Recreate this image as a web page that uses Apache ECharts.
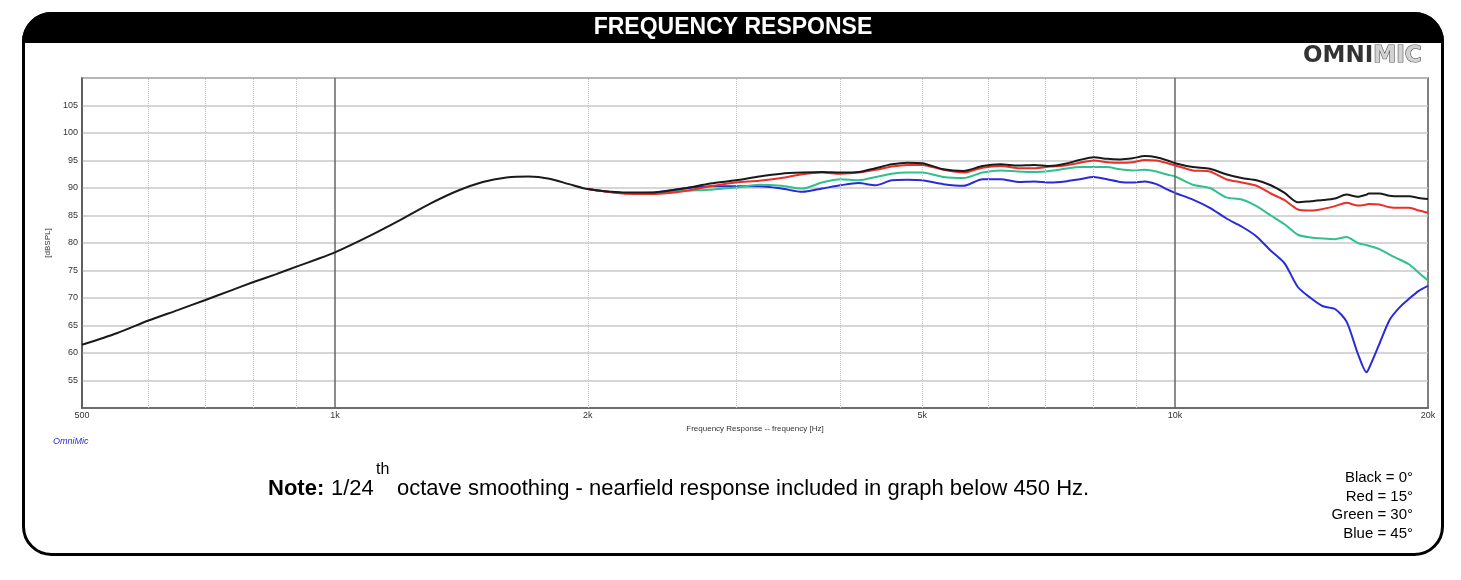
<!DOCTYPE html>
<html><head><meta charset="utf-8">
<script src="https://cdn.jsdelivr.net/npm/echarts@6/dist/echarts.min.js"></script>
<style>html,body{margin:0;padding:0;background:#fff}#c{width:1461px;height:580px}</style>
</head><body><div id="c"></div>
<script>
// Frequencies (Hz) shared by all curves
const freqs = [500,550,600,650,700,750,800,850,900,950,1000,1100,1200,1300,1400,1500,1600,1700,1800,1900,
  2000,2200,2400,2600,2800,3000,3200,3400,3600,3800,4000,4200,4400,4600,4800,
  5000,5300,5600,5900,6200,6500,6800,7100,7400,7700,8000,8300,8600,8900,9200,9500,9800,
  10000,10500,11000,11500,12000,12500,13000,13500,14000,14500,15000,15500,16000,16500,16900,
  17000,17500,18000,18500,19000,19500,20000];

// Black = 0 deg (includes nearfield part)
const black0 = [61.5,63.6,65.9,67.8,69.6,71.3,72.9,74.3,75.7,77.0,78.3,81.3,84.3,87.2,89.5,91.1,91.9,92.1,91.7,90.7,
  89.8,89.2,89.2,89.9,90.8,91.4,92.1,92.6,92.8,92.9,92.8,92.9,93.6,94.3,94.6,
  94.5,93.4,93.1,94.0,94.3,94.1,94.2,94.0,94.4,95.1,95.6,95.3,95.2,95.4,95.8,95.6,95.0,
  94.5,93.8,93.5,92.5,91.8,91.4,90.5,89.1,87.4,87.6,87.8,88.1,88.8,88.4,88.8,
  89.0,89.0,88.6,88.5,88.5,88.2,88.0];

const N = null;
// Red = 15 deg
const red15 = [N,N,N,N,N,N,N,N,N,N,N,N,N,N,N,N,N,N,N,N,
  89.8,89.0,88.9,89.4,90.3,91.0,91.3,91.8,92.5,92.8,92.6,92.8,93.3,93.9,94.2,
  94.2,93.3,92.8,93.7,94.0,93.6,93.6,93.9,94.1,94.6,95.0,94.7,94.6,94.7,95.1,95.0,94.5,
  94.1,93.2,93.0,91.6,91.0,90.4,89.0,87.8,86.1,85.9,86.2,86.7,87.3,86.8,87.0,
  87.1,87.0,86.5,86.4,86.4,85.9,85.5];

// Green = 30 deg
const green30 = [N,N,N,N,N,N,N,N,N,N,N,N,N,N,N,N,N,N,N,N,
  89.8,89.1,89.1,89.5,89.7,90.1,90.6,90.4,89.9,91.0,91.6,91.4,92.0,92.6,92.8,
  92.8,92.0,91.8,92.8,93.2,93.0,92.9,93.1,93.5,93.8,93.8,93.8,93.4,93.2,93.3,93.0,92.4,
  92.1,90.6,90.0,88.3,87.9,86.7,85.0,83.4,81.5,81.0,80.8,80.7,81.1,80.0,79.6,
  79.5,78.9,77.9,77.0,76.1,74.6,73.2];

// Blue = 45 deg
const blue45 = [N,N,N,N,N,N,N,N,N,N,N,N,N,N,N,N,N,N,N,N,
  89.8,89.1,89.2,89.9,90.3,90.3,90.3,89.9,89.3,89.9,90.5,90.9,90.5,91.4,91.5,
  91.4,90.7,90.4,91.6,91.6,91.1,91.2,91.0,91.2,91.6,92.0,91.6,91.1,91.0,91.2,90.7,89.7,
  89.1,87.9,86.4,84.5,83.0,81.2,78.6,76.3,72.0,70.0,68.5,68.0,65.7,59.9,56.5,
  57.1,61.6,66.0,68.3,69.9,71.3,72.2];

const xLabelValues = [500,1000,2000,5000,10000,20000];
const minorGridFreqs = [600,700,800,900,2000,3000,4000,5000,6000,7000,8000,9000];
const majorGridFreqs = [1000,10000];
const legendLines = ['Black = 0°','Red = 15°','Green = 30°','Blue = 45°'];

const pairs = vals => freqs.map((f,i) => [f, vals[i]]);
const fontFam = '"Liberation Sans", Arial, sans-serif';

const chart = echarts.init(document.getElementById('c'));
const lineSeries = (name, vals, color, z) => ({
  name, type:'line', data: pairs(vals), showSymbol:false, smooth:0.25, z,
  lineStyle:{color, width:2}, itemStyle:{color}, silent:true
});

chart.setOption({
  animation:false,
  backgroundColor:'#fff',
  grid:{left:82,right:33,top:78,bottom:172,show:true,borderColor:'#555',borderWidth:1.5},
  xAxis:{
    type:'log', logBase:10, min:500, max:20000,
    axisLine:{show:true,lineStyle:{color:'#555',width:1.5}},
    axisTick:{show:false}, splitLine:{show:false}, minorTick:{show:false}, minorSplitLine:{show:false},
    axisLabel:{customValues:xLabelValues, margin:3, fontSize:9, color:'#333', fontFamily:fontFam,
      formatter:v=>{const r=Math.round(v);return r>=1000?(r/1000)+'k':String(r);}},
    name:'Frequency Response -- frequency [Hz]', nameLocation:'middle', nameGap:16,
    nameTextStyle:{fontSize:8,color:'#333',fontFamily:fontFam}
  },
  yAxis:{
    type:'value', min:50, max:110, interval:5,
    axisLine:{show:true,lineStyle:{color:'#555',width:1.5}}, axisTick:{show:false},
    splitLine:{show:true,lineStyle:{color:'#c8c8c8',width:1.5}},
    axisLabel:{margin:4,fontSize:9,color:'#333',fontFamily:fontFam,
      formatter:v=>(v<=50||v>=110)?'':String(v)},
    name:'[dBSPL]', nameLocation:'middle', nameRotate:90, nameGap:24,
    nameTextStyle:{fontSize:8,color:'#333',fontFamily:fontFam}
  },
  series:[
    {type:'line', data:[], z:1, silent:true,
      markLine:{silent:true, symbol:'none', label:{show:false}, animation:false,
        data: minorGridFreqs.map(v=>({xAxis:v, lineStyle:{color:'#c4c4c4',type:'dotted',width:1}}))
          .concat(majorGridFreqs.map(v=>({xAxis:v, lineStyle:{color:'#666',type:'solid',width:1.5}})))}},
    lineSeries('Blue = 45°', blue45, '#2a2ad8', 3),
    lineSeries('Green = 30°', green30, '#30c08e', 4),
    lineSeries('Red = 15°', red15, '#e8302c', 5),
    lineSeries('Black = 0°', black0, '#1a1a1a', 6)
  ],
  graphic:[
    {type:'rect', z:0, shape:{x:23.5,y:13.5,width:1419,height:541,r:28}, style:{fill:'none',stroke:'#000',lineWidth:3}},
    {type:'rect', z:0, shape:{x:22,y:12,width:1422,height:31,r:[30,30,0,0]}, style:{fill:'#000'}},
    {type:'text', z:10, x:733, y:28, style:{text:'FREQUENCY RESPONSE', fill:'#fff', font:'bold 23px '+fontFam, align:'center', verticalAlign:'middle'}},
    {type:'text', z:10, x:1303, y:56, style:{text:'{a|OMNI}{b|MIC}', verticalAlign:'middle', align:'left',
      rich:{a:{fontFamily:'"DejaVu Sans"',fontWeight:'bold',fontSize:23,fill:'#333'},
            b:{fontFamily:'"DejaVu Sans"',fontWeight:'bold',fontSize:23,fill:'#d2d2d2',stroke:'#555',lineWidth:1.2}}}},
    {type:'text', z:10, x:53, y:441, style:{text:'OmniMic', fill:'#2b2bd6', font:'italic 9px '+fontFam, verticalAlign:'middle'}},
    {type:'text', z:10, x:268, y:489, style:{text:'Note:', fill:'#000', font:'bold 22px '+fontFam, verticalAlign:'middle'}},
    {type:'text', z:10, x:331, y:489, style:{text:'1/24', fill:'#000', font:'22px '+fontFam, verticalAlign:'middle'}},
    {type:'text', z:10, x:376, y:470, style:{text:'th', fill:'#000', font:'16px '+fontFam, verticalAlign:'middle'}},
    {type:'text', z:10, x:397, y:489, style:{text:'octave smoothing - nearfield response included in graph below 450 Hz.', fill:'#000', font:'22px '+fontFam, verticalAlign:'middle'}}
  ].concat(legendLines.map((t,i)=>({type:'text', z:10, x:1413, y:478+i*18.5,
      style:{text:t, fill:'#000', font:'15px '+fontFam, align:'right', verticalAlign:'middle'}})))
});
</script></body></html>
